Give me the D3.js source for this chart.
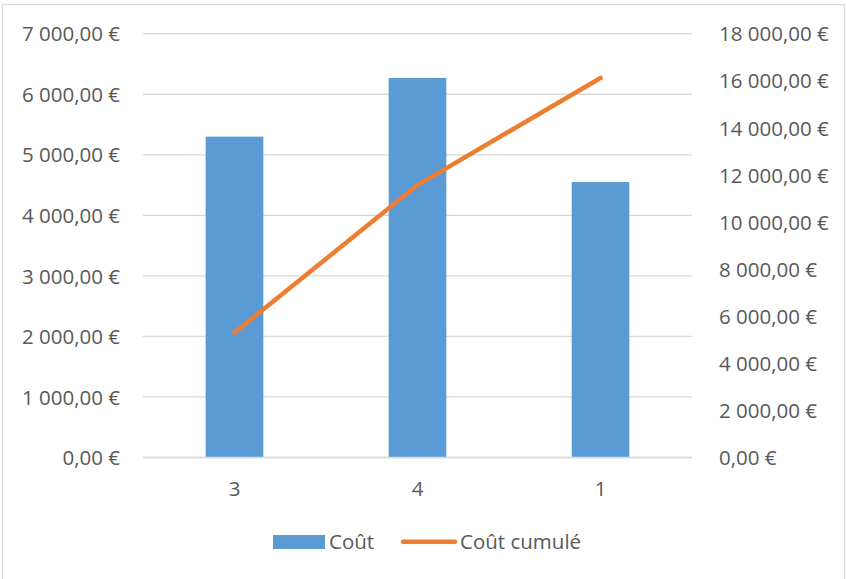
<!DOCTYPE html>
<html>
<head>
<meta charset="utf-8" />
<title>Coût</title>
<script src="https://cdn.jsdelivr.net/npm/d3@7/dist/d3.min.js"></script>
<style>
  body { margin: 0; background: #fff; }
  text { font-family: "Open Sans", sans-serif; fill: #595959; }
</style>
</head>
<body>
<div id="chart"></div>
<script>
// data
var categories = ["3", "4", "1"];
var cout = [5300, 6270, 4550];
var coutCumule = [5300, 11570, 16120];
var leftTicks = [0, 1000, 2000, 3000, 4000, 5000, 6000, 7000];
var rightTicks = [0, 2000, 4000, 6000, 8000, 10000, 12000, 14000, 16000, 18000];

var W = 846, H = 579;
var plot = {left: 143, right: 692, top: 33.7, bottom: 457.5};

var svg = d3.select("#chart").append("svg").attr("width", W).attr("height", H);

// chart border
svg.append("rect")
  .attr("x", 2.5).attr("y", 4.5).attr("width", 842).attr("height", 590)
  .attr("fill", "#fff").attr("stroke", "#d9d9d9").attr("stroke-width", 1.2);

var x = d3.scaleBand().domain(categories).range([plot.left, plot.right]).paddingInner(0.685).paddingOuter(0.3425);
var yL = d3.scaleLinear().domain([0, 7000]).range([plot.bottom, plot.top]);
var yR = d3.scaleLinear().domain([0, 18000]).range([plot.bottom, plot.top]);

// format like "7 000,00 €"
var fr = d3.formatLocale({decimal: ",", thousands: "\u00a0", grouping: [3], currency: ["", " €"]});
var fmt = function(v) { return fr.format(",.2f")(v) + " €"; };

// gridlines
svg.append("g").selectAll("line").data(leftTicks).enter().append("line")
  .attr("x1", plot.left).attr("x2", plot.right)
  .attr("y1", function(d) { return yL(d); }).attr("y2", function(d) { return yL(d); })
  .attr("stroke", "#d9d9d9").attr("stroke-width", 1.3);

// left axis
var axL = svg.append("g").attr("transform", "translate(120,0)")
  .call(d3.axisLeft(yL).tickValues(leftTicks).tickFormat(fmt).tickSize(0).tickPadding(0));
axL.select(".domain").remove();
axL.selectAll("text").style("font-size", "20.5px").attr("dy", "0.35em");

// right axis
var axR = svg.append("g").attr("transform", "translate(719,0)")
  .call(d3.axisRight(yR).tickValues(rightTicks).tickFormat(fmt).tickSize(0).tickPadding(0));
axR.select(".domain").remove();
axR.selectAll("text").style("font-size", "20.5px").attr("dy", "0.35em");

// bars
svg.append("g").selectAll("rect").data(cout).enter().append("rect")
  .attr("x", function(d, i) { return x(categories[i]); })
  .attr("width", x.bandwidth())
  .attr("y", function(d) { return yL(d); })
  .attr("height", function(d) { return yL(0) - yL(d); })
  .attr("fill", "#5b9bd5");

// base line
svg.append("line").attr("x1", plot.left).attr("x2", plot.right)
  .attr("y1", plot.bottom).attr("y2", plot.bottom)
  .attr("stroke", "#d9d9d9").attr("stroke-width", 1.3);

// x labels
var axB = svg.append("g").attr("transform", "translate(0," + plot.bottom + ")")
  .call(d3.axisBottom(x).tickSize(0).tickPadding(0));
axB.select(".domain").remove();
axB.selectAll("text").style("font-size", "20.5px").attr("y", 31).attr("dy", "0.35em");

// cumulative line
var line = d3.line()
  .x(function(d, i) { return x(categories[i]) + x.bandwidth() / 2; })
  .y(function(d) { return yR(d); });
svg.append("path").datum(coutCumule).attr("d", line)
  .attr("fill", "none").attr("stroke", "#ed7d31").attr("stroke-width", 4.5)
  .attr("stroke-linecap", "round").attr("stroke-linejoin", "round");

// legend
var lg = svg.append("g");
lg.append("rect").attr("x", 273).attr("y", 535).attr("width", 52).attr("height", 14).attr("fill", "#5b9bd5");
lg.append("text").attr("x", 329).attr("y", 542).attr("dy", "0.35em").style("font-size", "20.5px").text("Coût");
lg.append("line").attr("x1", 403).attr("x2", 455).attr("y1", 541.7).attr("y2", 541.7)
  .attr("stroke", "#ed7d31").attr("stroke-width", 4.5).attr("stroke-linecap", "round");
lg.append("text").attr("x", 460).attr("y", 542).attr("dy", "0.35em").style("font-size", "20.5px").text("Coût cumulé");
</script>
</body>
</html>
